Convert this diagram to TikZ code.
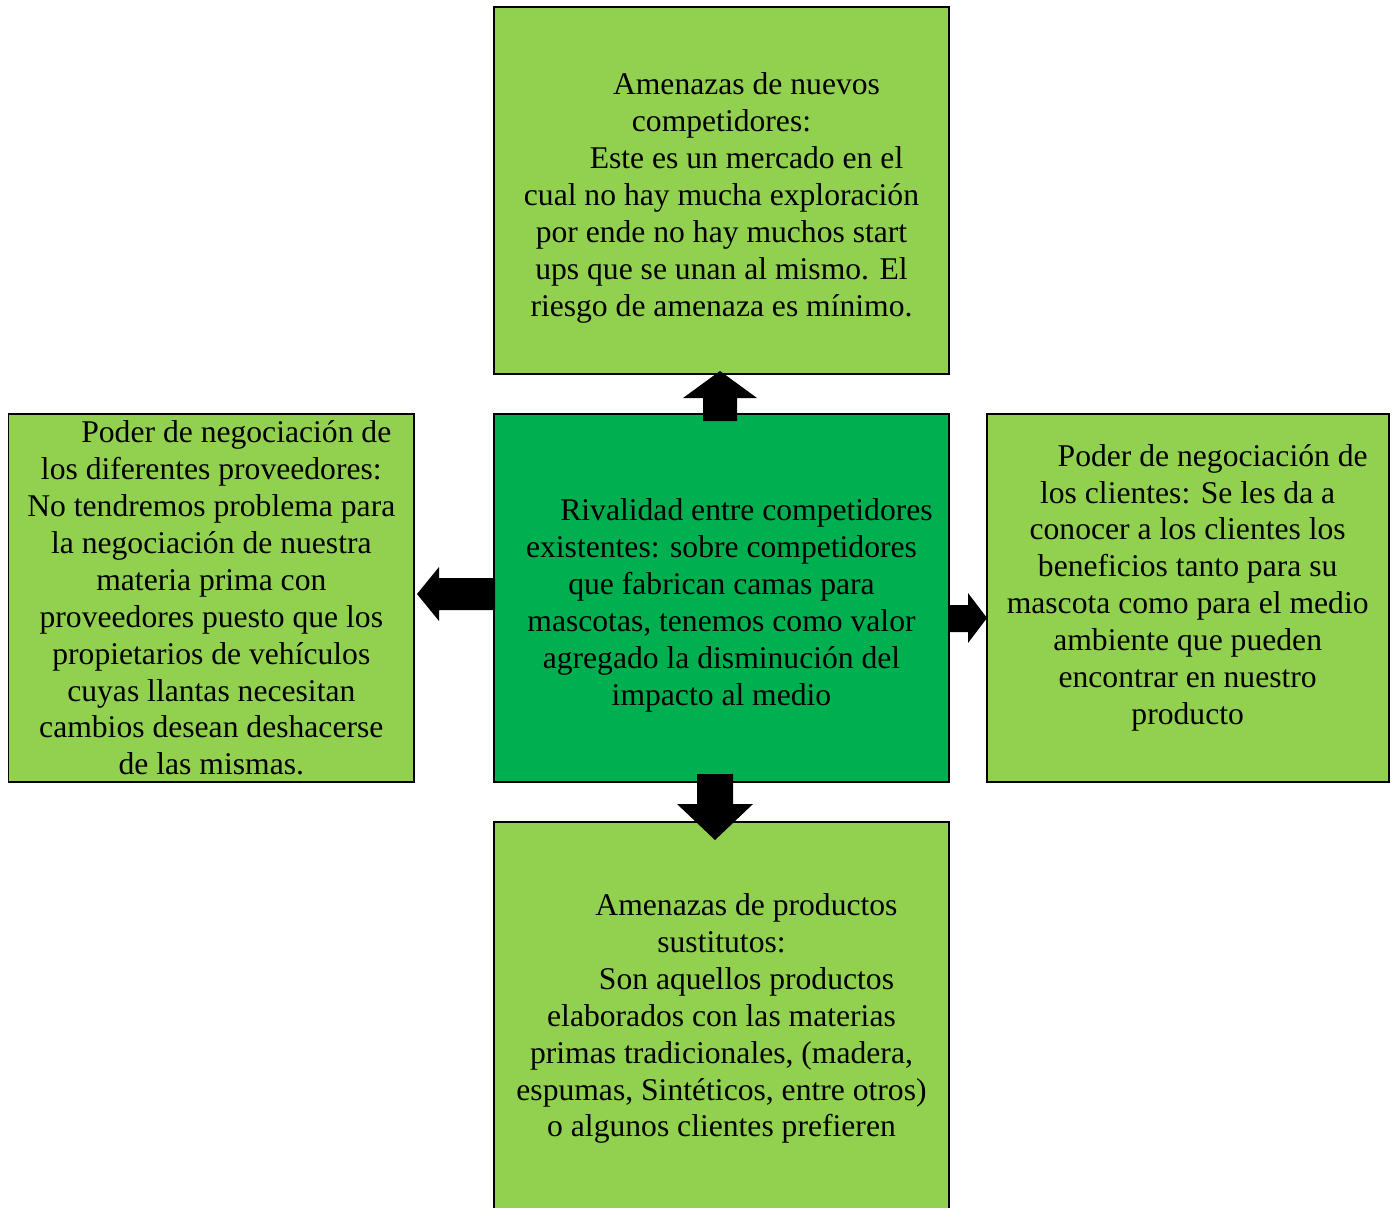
\documentclass[tikz,border=0pt]{standalone}
\usepackage{fontspec}
\setmainfont{Liberation Serif}
\usepackage{tikz}
\usetikzlibrary{positioning}
\usepackage{xcolor}
\definecolor{lightgreen}{HTML}{92D050}
\definecolor{darkgreen}{HTML}{00B050}
\newcommand{\ind}{\hspace*{1cm}}

\begin{document}
\begin{tikzpicture}[
    x=0.02cm, y=-0.02cm,
    force/.style={rectangle, draw, line width=1pt, fill=lightgreen, align=center, inner sep=0pt, minimum height=7.36cm, font=\fontsize{18}{21}\selectfont},
    rivalry/.style={force, fill=darkgreen, minimum width=9.1cm},
    blockarrow/.style={fill=black}
]
    \useasboundingbox (0,0) rectangle (1395,1207);

    % Nodes
    \node[rivalry] (rival) at (721.5,598) {\rule{0pt}{0.73cm}\ind Rivalidad entre competidores\\existentes: sobre competidores\\que fabrican camas para\\mascotas, tenemos como valor\\agregado la disminución del\\impacto al medio};
    \node[force, minimum width=9.1cm, minimum height=7.34cm, above=0.76cm of rival] (entrants) {\rule{0pt}{0.73cm}\ind Amenazas de nuevos\\competidores:\\\ind Este es un mercado en el\\cual no hay mucha exploración\\por ende no hay muchos start\\ups que se unan al mismo. El\\riesgo de amenaza es mínimo.};
    \node[force, minimum width=8.12cm, left=1.56cm of rival] (suppliers) {\ind Poder de negociación de\\los diferentes proveedores:\\No tendremos problema para\\la negociación de nuestra\\materia prima con\\proveedores puesto que los\\propietarios de vehículos\\cuyas llantas necesitan\\cambios desean deshacerse\\de las mismas.};
    \node[force, minimum width=8.04cm, right=0.72cm of rival] (buyers) {\rule{0pt}{0.85cm}\ind Poder de negociación de\\los clientes: Se les da a\\conocer a los clientes los\\beneficios tanto para su\\mascota como para el medio\\ambiente que pueden\\encontrar en nuestro\\producto\\\strut};
    \node[force, minimum width=9.1cm, minimum height=7.88cm, below=0.76cm of rival] (substitutes) {\ind Amenazas de productos\\sustitutos:\\\ind Son aquellos productos\\elaborados con las materias\\primas tradicionales, (madera,\\espumas, Sintéticos, entre otros)\\o algunos clientes prefieren};

    % Arrows
    \fill[blockarrow] (720,371) -- (757,398) -- (737,398) -- (737,421) -- (703,421) -- (703,398) -- (683,398) -- cycle;
    \fill[blockarrow] (417,594) -- (439,567) -- (439,578) -- (495,578) -- (495,610) -- (439,610) -- (439,621) -- cycle;
    \fill[blockarrow] (987,618) -- (968,643) -- (968,632) -- (950,632) -- (950,605) -- (968,605) -- (968,593) -- cycle;
    \fill[blockarrow] (715,840) -- (677,804) -- (697,804) -- (697,774) -- (733,774) -- (733,804) -- (753,804) -- cycle;
\end{tikzpicture}
\end{document}
